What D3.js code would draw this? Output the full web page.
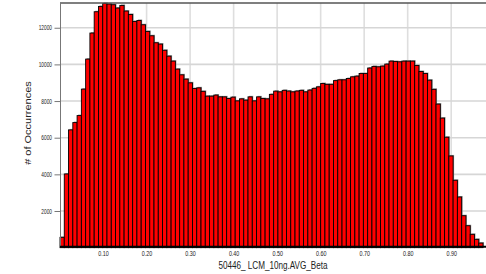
<!DOCTYPE html>
<html>
<head>
<meta charset="utf-8">
<script src="https://cdnjs.cloudflare.com/ajax/libs/d3/7.8.5/d3.min.js"></script>
<style>
    body { margin: 0; background: #fff; }
    svg { display: block; }
    text { font-family: "Liberation Sans", Arial, sans-serif; }
</style>
</head>
<body>
<script>
const width = 486,
      height = 274;

// histogram bins: left edge of first bin, bin width, and the count in each bin
const binStart = 0.001,
      binWidth = 0.00982;
const counts = [
    563, 4021, 6426, 6825, 7207, 8650, 10289, 11710, 12873, 13163,
    13327, 13294, 13256, 13076, 13218, 12911, 12726, 12344, 12398, 12163,
    11800, 11562, 11180, 11108, 10770, 10450, 10179, 9742, 9431, 9196,
    8994, 8682, 8721, 8529, 8267, 8267, 8327, 8229, 8229, 8136,
    8213, 8010, 8120, 8049, 8229, 8010, 8229, 8136, 8120, 8365,
    8540, 8502, 8584, 8546, 8502, 8546, 8584, 8502, 8600, 8693,
    8775, 8955, 8912, 8912, 9114, 9158, 9158, 9229, 9322, 9360,
    9502, 9502, 9802, 9890, 9868, 9906, 10016, 10179, 10158, 10141,
    10179, 10179, 10179, 9939, 9611, 9502, 9141, 8639, 7835, 7070,
    6027, 5005, 3677, 2765, 1743, 1197, 727, 454, 251
];
const xTicks = [0.1, 0.2, 0.3, 0.4, 0.5, 0.6, 0.7, 0.8, 0.9];
const yTicks = [2000, 4000, 6000, 8000, 10000, 12000];
const xDomain = [0.001, 0.98],
      yDomain = [0, 13350];
const xName = "50446_ LCM_10ng.AVG_Beta",
      yName = "# of Occurrences";

// the original render is squeezed sideways, text included
const squeeze = 0.74;

function createHistogram(){
    let svg = d3.select("body")
        .append("svg")
        .attr("width", width)
        .attr("height", height);

    let x = d3.scaleLinear().domain(xDomain).range([60, 486]);
    let y = d3.scaleLinear().domain(yDomain).range([247.66, 3]);

    let bins = counts.map(function(c, i){
        return {x0: binStart + i*binWidth, x1: binStart + (i+1)*binWidth, y: c};
    });

    // grid
    svg.append("g")
        .selectAll("line")
        .data(xTicks)
        .enter().append("line")
        .attr("x1", function(d){return x(d);})
        .attr("x2", function(d){return x(d);})
        .attr("y1", 3)
        .attr("y2", 247)
        .attr("stroke", "#dedede")
        .attr("stroke-width", 1.6);

    svg.append("g")
        .selectAll("line")
        .data(yTicks)
        .enter().append("line")
        .attr("x1", 60)
        .attr("x2", width)
        .attr("y1", function(d){return y(d);})
        .attr("y2", function(d){return y(d);})
        .attr("stroke", "#d6d6d6")
        .attr("stroke-width", 1.6);

    // bar shadows
    svg.append("g")
        .selectAll("rect")
        .data(bins)
        .enter().append("rect")
        .attr("x", function(d){return x(d.x0) + 1;})
        .attr("y", function(d){return y(d.y) - 1;})
        .attr("width", function(d){return x(d.x1) - x(d.x0);})
        .attr("height", function(d){return y(0) - y(d.y);})
        .attr("fill", "#9a9a9a");

    svg.append("g")
        .selectAll("rect")
        .data(bins)
        .enter().append("rect")
        .attr("class", "bar")
        .attr("x", function(d){return x(d.x0);})
        .attr("y", function(d){return y(d.y);})
        .attr("width", function(d){return x(d.x1) - x(d.x0);})
        .attr("height", function(d){return y(0) - y(d.y);})
        .attr("fill", "#ff0000")
        .attr("stroke", "#000")
        .attr("stroke-width", 0.9);

    // frame
    svg.append("line")
        .attr("x1", 60).attr("x2", width)
        .attr("y1", 3).attr("y2", 3)
        .attr("stroke", "#555")
        .attr("stroke-width", 1.3);

    let yAxis = d3.axisLeft(y).tickValues(yTicks).tickSize(6).tickPadding(2)
        .tickFormat(d3.format("d"));
    let gy = svg.append("g")
        .attr("transform", "translate(60.5,0)")
        .call(yAxis);
    gy.select(".domain").attr("stroke", "#777").attr("d", "M0,3V247");
    gy.selectAll(".tick line").attr("stroke", "#777");
    gy.selectAll(".tick text")
        .attr("x", 0)
        .attr("transform", "translate(-8.5,0) scale(" + squeeze + ",1)")
        .attr("font-size", "6.5px")
        .attr("fill", "#222");

    let xAxis = d3.axisBottom(x).tickValues(xTicks).tickSize(0).tickPadding(4)
        .tickFormat(d3.format(".2f"));
    let gx = svg.append("g")
        .attr("transform", "translate(0,246.7)")
        .call(xAxis);
    gx.select(".domain").attr("stroke", "#000").attr("stroke-width", 2)
        .attr("d", "M60,0H" + width);
    gx.selectAll(".tick text")
        .attr("transform", "scale(" + squeeze + ",1)")
        .attr("font-size", "7.3px")
        .attr("fill", "#222");

    svg.append("text")
        .attr("text-anchor", "middle")
        .attr("font-size", "11px")
        .attr("fill", "#222")
        .attr("transform", "translate(" + ((60 + width)/2) + ",268.7) scale(" + squeeze + ",1)")
        .text(xName);

    svg.append("text")
        .attr("text-anchor", "middle")
        .attr("font-size", "11px")
        .attr("fill", "#222")
        .attr("transform", "translate(30.5,123) scale(" + squeeze + ",1) rotate(-90)")
        .text(yName);
}

function init(){
    createHistogram();
}

window.onload = init;
</script>
</body>
</html>
